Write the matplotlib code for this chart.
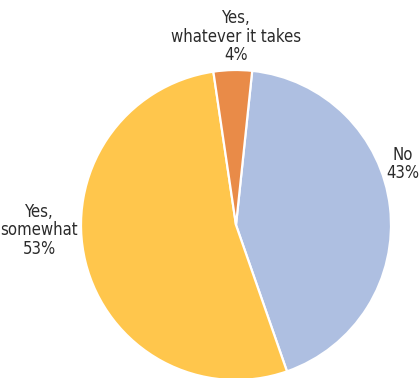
import matplotlib.pyplot as plt

labels = ['No', 'Yes,\nsomewhat', 'Yes,\nwhatever it takes']
shares = [43, 53, 4]
colors = ['#AEBFE1', '#FFC64C', '#E98B48']

fig = plt.figure(figsize=(4.19, 3.78), dpi=100)
ax = fig.add_axes([0, 0, 1, 1])
ax.pie(shares, colors=colors, startangle=84, counterclock=False,
       radius=1.0, wedgeprops=dict(edgecolor='white', linewidth=1.6))

# axis limits keep the pie centred where the labels have room
ax.set_xlim(-236 / 155, (419 - 236) / 155)
ax.set_ylim(-153 / 155, 225 / 155)
ax.set_aspect('auto')
ax.axis('off')

label_pos = [(1.077, 0.394), (-1.268, -0.035), (0.0, 1.215)]
for lab, v, (x, y) in zip(labels, shares, label_pos):
    ax.text(x, y, f'{lab}\n{v}%', ha='center', va='center', fontsize=12,
            family='DejaVu Sans', fontstretch='condensed',
            color='#2b2b2b', linespacing=1.03)

fig.savefig('out.png', dpi=100)
